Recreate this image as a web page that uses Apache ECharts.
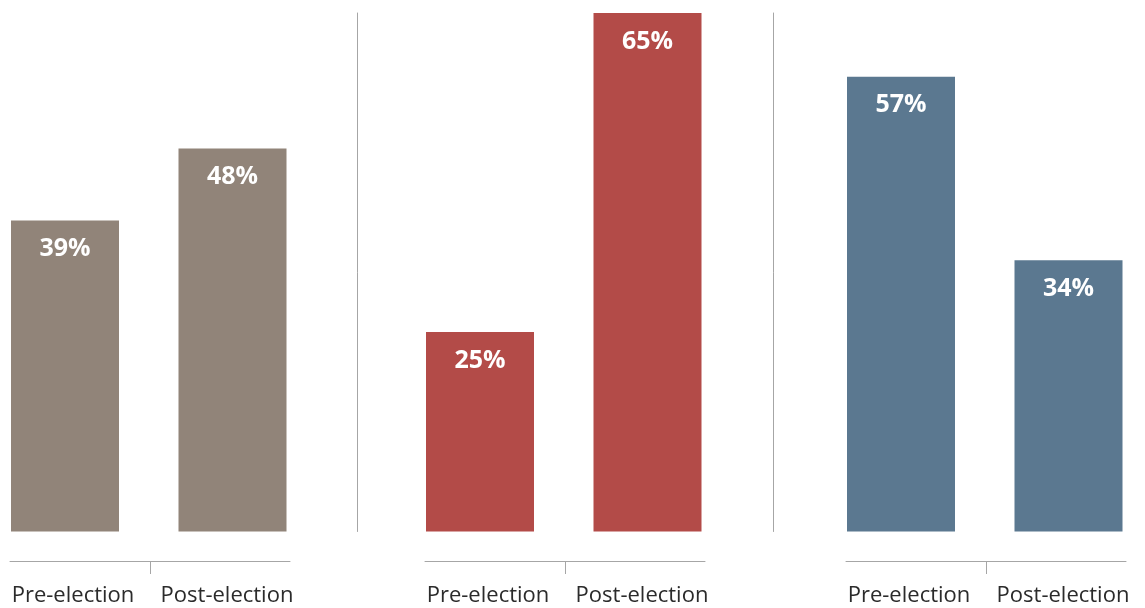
<!DOCTYPE html>
<html>
<head>
<meta charset="utf-8">
<script src="https://cdn.jsdelivr.net/npm/echarts@6/dist/echarts.min.js"></script>
<style>
  html, body { margin: 0; padding: 0; background: #ffffff; }
  #chart { width: 1145px; height: 608px; }
</style>
</head>
<body>
<div id="chart"></div>
<script>
// Survey shares before and after the election, three groups side by side
const categories = ['Pre-election', 'Post-election'];
const groupOne = [39, 48];
const groupTwo = [25, 65];
const groupThree = [57, 34];
const groupValues = [groupOne, groupTwo, groupThree];
const groupColors = ['#918479', '#b34b48', '#5b7890'];

const VALUE_MAX = 65;
const GRID_TOP = 13;
const BAR_BOTTOM = 76.5;   // bars end at y = 531.5
const AXIS_BOTTOM = 47;    // category rule at y = 561
const BAR_WIDTH = 108;
const BAR_STEP = 167.5;    // distance between the two bar centres
const barLefts = [11, 426, 847];     // left edge of each group's first bar
const ruleLefts = [10, 425, 846];
const separatorX = [null, 357, 773];

const grids = [], xAxes = [], yAxes = [], series = [];

groupValues.forEach(function (vals, i) {
  const center = barLefts[i] + BAR_WIDTH / 2;

  // grid spanning the two bar centres; categories sit on the grid edges
  grids.push({ left: center, width: BAR_STEP, top: GRID_TOP, bottom: BAR_BOTTOM, containLabel: false });
  xAxes.push({ type: 'category', gridIndex: i, data: categories, boundaryGap: false, show: false });
  yAxes.push({
    type: 'value', gridIndex: i, min: 0, max: VALUE_MAX,
    show: i > 0,
    offset: i > 0 ? center - separatorX[i] : 0,
    axisLine: { show: i > 0, lineStyle: { color: '#a6a6a6', width: 1 } },
    axisTick: { show: false }, axisLabel: { show: false }, splitLine: { show: false }
  });
  series.push({
    type: 'bar', xAxisIndex: i, yAxisIndex: i, data: vals, barWidth: BAR_WIDTH,
    clip: false,
    itemStyle: { color: groupColors[i] },
    label: {
      show: true, position: 'insideTop', distance: 16,
      formatter: '{c}%', color: '#ffffff', fontWeight: 'bold',
      fontFamily: 'Open Sans', fontSize: 25
    },
    silent: true
  });
});

// category rules beneath each group
groupValues.forEach(function (vals, i) {
  const g = grids.length;
  grids.push({ left: ruleLefts[i], width: 280, top: GRID_TOP, bottom: AXIS_BOTTOM, containLabel: false });
  xAxes.push({
    type: 'value', gridIndex: g, min: 0, max: 2,
    axisLine: { show: true, onZero: false, lineStyle: { color: '#a6a6a6', width: 1 } },
    axisTick: { show: true, length: 13, customValues: [1], lineStyle: { color: '#a6a6a6' } },
    axisLabel: {
      show: true, customValues: [0.45, 1.55], margin: 24,
      formatter: function (v) { return categories[Math.floor(v)]; },
      color: '#2b2b2b', fontFamily: 'Open Sans', fontSize: 22
    },
    splitLine: { show: false }
  });
  yAxes.push({ type: 'value', gridIndex: g, min: 0, max: 1, show: false });
});

const chart = echarts.init(document.getElementById('chart'), null, { renderer: 'canvas' });
chart.setOption({
  animation: false,
  grid: grids,
  xAxis: xAxes,
  yAxis: yAxes,
  series: series
});
</script>
</body>
</html>
